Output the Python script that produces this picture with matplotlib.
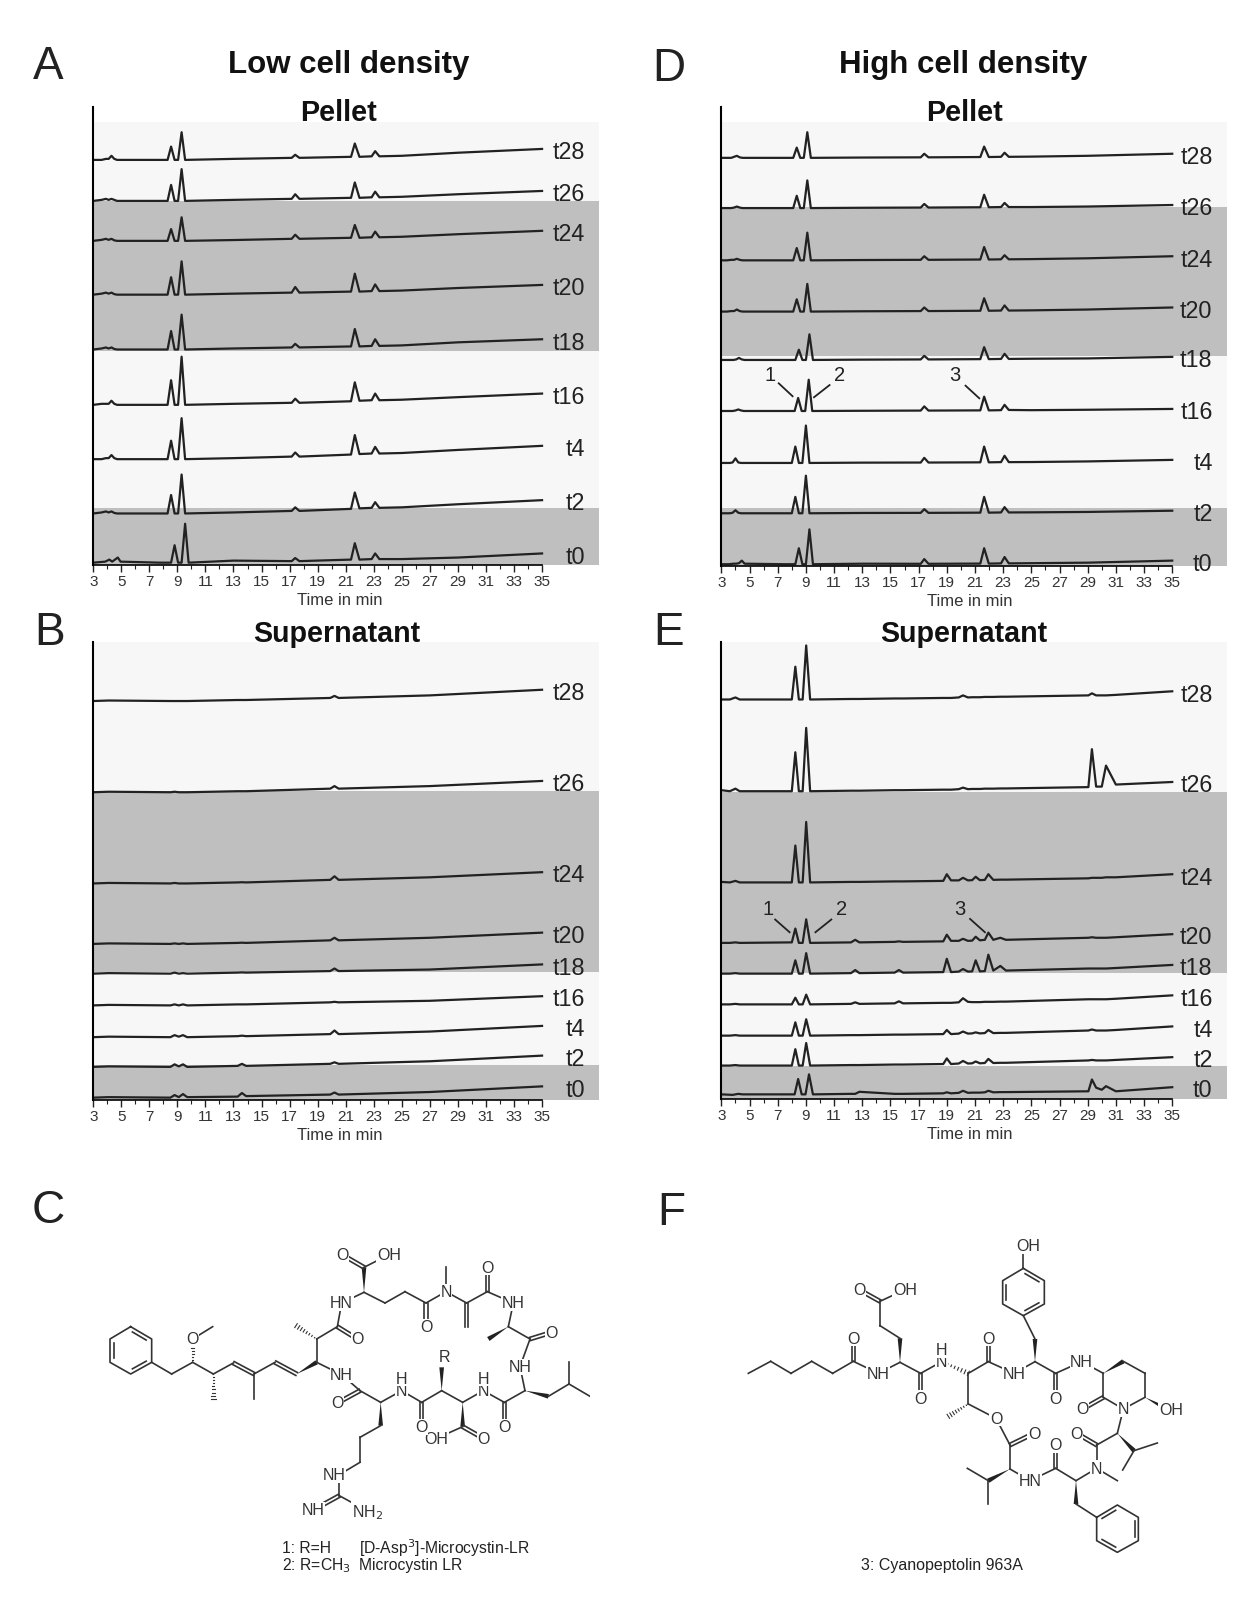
import numpy as np
import matplotlib
matplotlib.use("Agg")
import matplotlib.pyplot as plt
from matplotlib.patches import Polygon

plt.rcParams['font.family'] = ['Liberation Sans', 'DejaVu Sans']

labels = ['t28', 't26', 't24', 't20', 't18', 't16', 't4', 't2', 't0']

# retention time knots, minutes
pellet_t = [3.0, 3.6, 3.9, 4.1, 4.3, 4.5, 4.7, 7.5, 8.3, 8.55, 8.8, 9.05, 9.3, 9.55, 13, 17.15, 17.4, 17.7,
            21.38, 21.65, 21.98, 22.85, 23.1, 23.4, 25, 29, 35]
low_sup_t = [3, 4.1, 8.5, 8.8, 9.1, 9.4, 9.7, 13.3, 13.6, 13.9, 19.9, 20.2, 20.5, 27, 35]
high_sup_t = [3.0, 3.6, 4.0, 4.3, 8.0, 8.25, 8.5, 8.77, 9.02, 9.3, 12.2, 12.5, 12.8, 15.3, 15.6, 15.9,
              18.75, 19.0, 19.3, 19.85, 20.15, 20.5, 20.8, 21.05, 21.35, 21.7, 21.95, 22.3, 22.8, 23.2,
              29.05, 29.3, 29.6, 30.0, 30.3, 31.0, 35.0]

# stacking offset of each trace and early peak shift of each run
low_pellet_offset = [395, 355, 316, 263.5, 210, 156, 103, 50, 2]
low_pellet_shift = [0, 0, 0, 0, 0, 0, 0, 0, 0.25]
high_pellet_offset = [398, 349, 298, 248, 200.8, 151, 100.3, 51.2, 1.5]
high_pellet_shift = [-0.2, -0.2, -0.2, -0.2, -0.05, -0.1, -0.3, -0.3, -0.05]
low_sup_offset = [389, 300, 211, 152, 123, 92, 61, 32, 2]
low_sup_shift = [0, 0, 0, 0, 0, 0, 0, 0, 0]
high_sup_offset = [389.5, 300, 211, 152, 122, 92, 61.5, 32.3, 3.7]
high_sup_shift = [0, 0, 0, 0, 0, 0, 0, 0, 0.2]

lp_t28 = [0, 0, 1, 1, 4, 1, 0, 0, 0, 13, 0, 0, 27, 0, 1, 2, 5, 2, 3, 16, 3, 3.5, 8.5, 3.5, 4, 7, 10.7]
lp_t26 = [0, 1, 2, 1, 2, 1, 0, 0, 0, 15.6, 0, 0, 31, 0, 1, 2, 6.5, 2, 3, 18, 3, 3.5, 9, 3.5, 4, 6.5, 9.7]
lp_t24 = [0, 1, 2, 1, 2, .5, 0, 0, 0, 11.5, 0, 0, 23, 0, .8, 2, 6, 2, 3, 15.5, 3, 3.5, 9, 3.5, 4, 6.5, 9.8]
lp_t20 = [0, 1, 2, 1, 2, .5, 0, 0, 0, 17, 0, 0, 32.5, 0, 1, 2, 7.5, 2, 3, 20.5, 3, 3.5, 10, 3.5, 4, 6.5, 9.5]
lp_t18 = [0, 1, 2, 1, 2, .5, 0, 0, 0, 18, 0, 0, 34, 0, 1, 2, 5.5, 2, 3, 20, 3, 3.5, 10, 3.5, 4, 7, 10]
lp_t16 = [0, 1, 1, 1, 4, 1, 0, 0, 0, 24, 0, 0, 47, 0, 1, 2, 6, 2, 3.5, 22, 4, 4.5, 11, 4.5, 5, 7.5, 11]
lp_t4 = [0, 0, 1, 1, 4, 1, 0, 0, 0, 18, 0, 0, 40, 0, 1, 2.5, 6.5, 2.5, 4.5, 23.5, 5, 5.5, 12, 5.5, 6, 9, 13]
lp_t2 = [0, 1, 2, 1, 2, .5, 0, 0, 0, 18, 0, 0, 38, 0, 1, 2.5, 6, 2.5, 4.5, 20.5, 5, 5.5, 11, 5.5, 6, 9, 13]
lp_t0 = [0, 1, 3, 1, 3, 5, 1, 0, 0, 17, 0, 0, 38, 0, 2, 1.5, 4.5, 1.5, 3, 19, 3, 3.5, 9, 3.5, 3.5, 5, 9]

hp_t28 = [0, 0, 0, 1, 2, .5, 0, 0, 0, 10, 0, 0, 25, 0, .3, .5, 4, .5, .8, 11, .8, 1, 5, 1, 1.2, 2, 4]
hp_t26 = [0, 0, 0, .5, 1.5, .5, 0, 0, 0, 12, 0, 0, 27, 0, .3, .5, 4, .5, .8, 13, .8, 1, 5, 1, 1, 1.5, 3]
hp_t24 = [0, 0, .5, .5, 1.5, .5, 0, 0, 0, 12, 0, 0, 27, 0, .3, .5, 4, .5, .8, 13, .8, 1, 5, 1, 1.2, 2, 4]
hp_t20 = [0, 0, .5, .5, 2, .5, 0, 0, 0, 12, 0, 0, 27, 0, .3, .5, 4, .5, .8, 13, .8, 1, 6, 1, 1.2, 2, 4]
hp_t18 = [0, 0, 0, .5, 2, .5, 0, 0, 0, 10, 0, 0, 25, 0, .3, .5, 4, .5, .8, 12.5, .8, 1, 6, 1, 1.2, 1.5, 3]
hp_t16 = [0, 0, 0, .5, 1.5, .5, 0, 0, 0, 12.7, 0, 0, 30.5, 0, .2, .4, 4.5, .4, .6, 14, .6, .8, 6, 1, .8, 1.2, 2]
hp_t4 = [0, 0, 0, .5, 4.5, .5, 0, 0, 0, 16, 0, 0, 36.5, 0, .3, .4, 5, .4, .6, 16, .6, .8, 7, .8, .9, 1.5, 3]
hp_t2 = [0, 0, 0, .5, 3, .5, 0, 0, 0, 16, 0, 0, 36.7, 0, .3, .4, 4, .4, .6, 16, .6, .8, 6, .8, .9, 1.3, 2.5]
hp_t0 = [0, 0, .5, .5, 1, 3.5, .5, 0, 0, 15.6, 0, 0, 34, 0, .5, .4, 5, .4, .6, 15.6, .6, .8, 7, .8, 1, 1.5, 3.5]

ls_t28 = [0, .5, 0, 0, 0, 0, 0, 1, 1, 1, 3, 5, 3, 5.5, 11]
ls_t26 = [0, .5, 0, .5, 0, 0, 0, 1, 1, 1, 3.5, 6, 3.5, 6, 11]
ls_t24 = [0, .5, 0, .5, 0, 0, 0, 1, 1.2, 1, 3.5, 7, 3.5, 6, 11]
ls_t20 = [0, .5, 0, .5, 0, .5, 0, 1, 1.2, 1, 3.5, 6, 3.5, 6, 11]
ls_t18 = [0, .5, 0, 1, 0, .5, 0, 1, 1.2, 1, 2.5, 5, 2.5, 4, 9]
ls_t16 = [0, .5, 0, 1, 0, 1, 0, 1, 1, 1, 3, 3.5, 3, 4.5, 9]
ls_t4 = [0, .5, 0, 2, .5, 2, 0, 1, 1.5, 1, 3, 6.5, 3, 5.5, 11]
ls_t2 = [0, .5, 0, 2.5, .5, 2.5, 0, 1, 3, 1, 3, 4.5, 3, 5.5, 11]
ls_t0 = [0, .5, 0, 2.5, .5, 3.5, .5, 1, 4.5, 1.5, 3, 5, 3, 5.5, 11]

hs_t28 = [0, 0, 2, 0, 0, 32, 0, 0, 52.7, 0, .5, .5, .5, 1, 1, 1, 1.5, 1.5, 1.5, 2, 4, 2, 2.2, 2.2, 2.2, 2.5, 2.5, 2.5,
          2.7, 2.7, 4, 6, 4, 4, 4, 4.5, 8]
hs_t26 = [1, 0, 2.5, 0, 0, 38, 0, 0, 61.8, 0, .5, .5, .5, 1, 1, 1, 1.5, 1.5, 1.5, 2, 3.5, 2, 2.2, 2.2, 2.2, 2.5, 2.5, 2.5,
          2.7, 2.7, 4, 41, 4.5, 4.5, 25, 6.5, 9]
hs_t24 = [.5, 0, 1.5, 0, 0, 36, 0, 0, 59, 0, .5, .5, .5, 1, 1, 1, 1.5, 8, 2, 2, 4.5, 2, 2.2, 5.5, 2.2, 2.5, 8, 2.5,
          2.7, 2.7, 4, 4.5, 4.5, 4.5, 5, 5, 8]
hs_t20 = [0, 0, .5, 0, .5, 14, 0, 0, 23, 0, .5, 3, .5, 1, 1.5, 1, 1.5, 8, 2, 2, 4, 2, 2.2, 6, 2.5, 3, 10, 3,
          5, 3, 5, 5.5, 5, 5, 5, 5.5, 8.5]
hs_t18 = [0, 0, .5, 0, 0, 13, 0, 0, 20, 0, .5, 3.5, .5, 1, 3.5, 1, 1.5, 14.5, 1.5, 2, 4.5, 2, 2.2, 13, 2.2, 2.5, 18.5, 3,
          7.5, 3, 5, 5, 5, 5, 5, 5.5, 8.5]
hs_t16 = [0, 0, .5, 0, 0, 6.5, 0, 0, 9.5, 0, .5, 2, .5, 1, 3, 1, 1.5, 1.5, 1.5, 2, 6, 2.5, 2.2, 2.2, 2.2, 2.5, 2.5, 2.5,
          2.7, 2.7, 5, 5, 5, 5, 5, 5.5, 8.8]
hs_t4 = [0, 0, .5, 0, 0, 13, 0, 0, 16, 0, .5, .5, .5, 1, 1, 1, 1.5, 5.5, 1.5, 2, 4, 2, 2.2, 3.2, 2.2, 2.5, 5.5, 2.5,
         2.7, 2.7, 5, 6, 5, 5, 5, 5.5, 9]
hs_t2 = [0, 0, .5, 0, 0, 16, 0, 0, 22, 0, .5, .5, .5, 1, 1, 1, 1.5, 7, 1.5, 2, 4.5, 2, 2.2, 4, 2.2, 2.5, 6.5, 2.5,
         2.7, 2.7, 5, 5.5, 5, 5, 5, 5.5, 8.2]
hs_t0 = [.5, 0, 1, .5, .5, 15.5, .5, .5, 20, .5, 1, 1, 3, 1, 1, 1, 1.5, 2.5, 1.5, 2, 4, 2, 2.2, 2.2, 2.2, 2.5, 4, 2.5,
         2.7, 2.7, 3.5, 15, 7, 5, 8.5, 3.5, 7.5]

# structures: (x1, y1, x2, y2, kind) with s single, d double, w wedge, h hashed
benzene_c = [(122, 383), (185, 420), (185, 490), (122, 525), (60, 490), (60, 420)]
bonds_c = [
    (185, 490, 245, 525, 's'), (245, 525, 308, 490, 's'), (308, 490, 308, 420, 'h'), (308, 420, 368, 383, 's'),
    (308, 490, 370, 525, 's'), (370, 525, 370, 600, 'h'), (370, 525, 430, 492, 's'), (430, 492, 492, 525, 'd'),
    (492, 525, 492, 600, 's'), (492, 525, 555, 490, 's'), (555, 490, 620, 525, 'd'), (620, 525, 680, 490, 'w'),
    (680, 490, 680, 420, 's'), (680, 420, 618, 380, 'h'), (680, 420, 742, 383, 's'), (742, 383, 802, 420, 'd'),
    (742, 383, 755, 312, 's'), (755, 312, 822, 280, 's'), (822, 280, 822, 205, 'w'), (822, 205, 758, 168, 'd'),
    (822, 205, 895, 168, 's'), (822, 280, 885, 312, 's'), (885, 312, 945, 278, 's'), (945, 278, 1008, 312, 's'),
    (1008, 312, 1008, 383, 'd'), (1008, 312, 1068, 278, 's'), (1068, 278, 1068, 205, 's'), (1068, 278, 1130, 312, 's'),
    (1130, 312, 1130, 383, 'd'), (1130, 312, 1192, 278, 's'), (1192, 278, 1192, 205, 'd'), (1192, 278, 1270, 312, 's'),
    (1270, 312, 1255, 383, 's'), (1255, 383, 1195, 420, 'w'), (1255, 383, 1320, 420, 's'), (1320, 420, 1385, 400, 'd'),
    (1320, 420, 1290, 503, 's'), (1290, 503, 1305, 575, 's'), (1305, 575, 1375, 592, 'w'), (1375, 592, 1437, 555, 's'),
    (1437, 555, 1437, 488, 's'), (1437, 555, 1500, 592, 's'), (1305, 575, 1243, 610, 's'), (1243, 610, 1243, 683, 'd'),
    (1243, 610, 1180, 575, 's'), (1180, 575, 1118, 610, 's'), (1118, 610, 1118, 683, 'w'), (1118, 683, 1180, 718, 'd'),
    (1118, 683, 1040, 718, 's'), (1118, 610, 1055, 575, 's'), (1055, 575, 1055, 505, 'w'), (1055, 575, 995, 610, 's'),
    (995, 610, 995, 683, 'd'), (995, 610, 935, 575, 's'), (935, 575, 872, 610, 's'), (872, 610, 810, 575, 's'),
    (810, 575, 742, 612, 'd'), (810, 575, 755, 527, 's'), (755, 527, 680, 490, 's'), (872, 610, 872, 680, 'w'),
    (872, 680, 810, 715, 's'), (810, 715, 810, 790, 's'), (810, 790, 748, 827, 's'), (748, 827, 748, 890, 's'),
    (748, 890, 670, 933, 'd'), (748, 890, 830, 935, 's'),
]
atoms_c = [('O', 308, 420), ('HN', 755, 312), ('O', 802, 420), ('O', 758, 168), ('OH', 897, 168), ('O', 1008, 383),
           ('N', 1068, 278), ('O', 1192, 205), ('NH', 1270, 312), ('O', 1385, 400), ('NH', 1290, 503), ('O', 1243, 683),
           ('N', 1180, 575), ('H', 1180, 538), ('O', 1180, 718), ('OH', 1040, 718), ('R', 1063, 472), ('O', 995, 683),
           ('N', 935, 575), ('H', 935, 538), ('O', 742, 612), ('NH', 755, 527), ('NH', 732, 827), ('NH', 670, 933),
           ('NH$_2$', 832, 937)]

chain_f_ring1 = [(940, 238), (1003, 275), (1003, 345), (940, 380), (878, 345), (878, 275)]
chain_f_ring2 = [(1160, 985), (1222, 948), (1285, 985), (1285, 1055), (1222, 1090), (1160, 1055)]
bonds_f = [
    (115, 553, 182, 517, 's'), (182, 517, 243, 553, 's'), (243, 553, 305, 517, 's'), (305, 517, 368, 553, 's'),
    (368, 553, 430, 517, 's'), (430, 517, 430, 448, 'd'), (430, 517, 505, 553, 's'), (505, 553, 570, 520, 's'),
    (570, 520, 570, 448, 'w'), (570, 448, 510, 410, 's'), (510, 410, 510, 337, 's'), (510, 337, 447, 302, 'd'),
    (510, 337, 585, 302, 's'), (570, 520, 632, 553, 's'), (632, 553, 632, 627, 'd'), (632, 553, 695, 518, 's'),
    (695, 518, 775, 553, 'h'), (775, 553, 835, 518, 's'), (835, 518, 835, 447, 'd'), (835, 518, 912, 553, 's'),
    (912, 553, 975, 518, 's'), (975, 518, 975, 450, 'w'), (975, 450, 940, 380, 's'), (940, 238, 940, 170, 's'),
    (975, 518, 1037, 553, 's'), (1037, 553, 1037, 627, 'd'), (1037, 553, 1115, 518, 's'), (1115, 518, 1180, 553, 's'),
    (1180, 553, 1240, 517, 'w'), (1240, 517, 1305, 553, 's'), (1305, 553, 1305, 625, 's'), (1305, 625, 1370, 660, 'w'),
    (1305, 625, 1240, 660, 's'), (1240, 660, 1180, 625, 's'), (1180, 625, 1180, 553, 's'), (1180, 625, 1118, 660, 'd'),
    (1240, 660, 1222, 733, 's'), (1222, 733, 1272, 785, 'w'), (1272, 785, 1342, 762, 's'), (1272, 785, 1238, 843, 's'),
    (1222, 733, 1160, 768, 's'), (1160, 768, 1100, 733, 'd'), (1160, 768, 1160, 838, 's'), (1160, 838, 1222, 875, 's'),
    (1160, 838, 1098, 875, 's'), (1098, 875, 1037, 838, 's'), (1037, 838, 1037, 768, 'd'), (1037, 838, 960, 875, 's'),
    (960, 875, 900, 840, 's'), (900, 840, 835, 875, 'w'), (835, 875, 772, 838, 's'), (835, 875, 835, 945, 's'),
    (900, 840, 900, 768, 's'), (900, 768, 972, 733, 'd'), (900, 768, 858, 688, 's'), (858, 688, 775, 645, 's'),
    (775, 645, 775, 553, 's'), (775, 645, 715, 682, 'h'), (1098, 875, 1098, 945, 'w'), (1098, 945, 1160, 985, 's'),
]
atoms_f = [('O', 430, 448), ('NH', 505, 553), ('O', 447, 302), ('OH', 585, 302), ('O', 632, 627), ('N', 695, 518),
           ('H', 695, 482), ('O', 835, 447), ('NH', 912, 553), ('OH', 955, 170), ('O', 1037, 627), ('NH', 1115, 518),
           ('OH', 1383, 662), ('N', 1240, 660), ('O', 1118, 660), ('O', 1100, 733), ('N', 1160, 838), ('O', 1037, 768),
           ('HN', 960, 875), ('O', 972, 733), ('O', 858, 688)]

W, H = 1246, 1608
SEEN_W, SEEN_H = 1216, 1569


def panel_axes(x0, x1, top, bottom):
    sx, sy = W / SEEN_W, H / SEEN_H
    ax = fig.add_axes([x0 * sx / W, 1 - bottom * sy / H, (x1 - x0) * sx / W, (bottom - top) * sy / H])
    ax.set_facecolor('none')
    ax.set_xlim(3, 35)
    ax.set_ylim(0, bottom - top)
    ax.set_yticks([])
    ax.set_xticks(range(3, 36, 2))
    ax.set_xticks(range(3, 36), minor=True)
    ax.tick_params(axis='x', which='major', length=5, width=1, labelsize=11, pad=2, labelcolor='#333333', color='#222222')
    ax.tick_params(axis='x', which='minor', length=3, width=0.8, color='#222222')
    ax.spines['top'].set_visible(False)
    ax.spines['right'].set_visible(False)
    ax.spines['left'].set_linewidth(1.5)
    ax.spines['bottom'].set_linewidth(1.2)
    ax.set_xlabel('Time in min', fontsize=12, color='#333333')
    ax.xaxis.set_label_coords(0.55, -27 / (bottom - top))
    return ax


def draw_traces(ax, grid, rows, offsets, shifts, label_gap):
    grid = np.array(grid, dtype=float)
    for name, row, off, shift in zip(labels, rows, offsets, shifts):
        t = grid + np.where(grid < 10, shift, 0)
        t[0] = 3
        y = np.array(row) + off
        ax.plot(t, y, color='#222222', lw=1.6, solid_joinstyle='round', clip_on=False)
        ax.annotate(name, (35, y[-1]), xytext=(label_gap, -2), textcoords='offset points', ha='right', va='center',
                    fontsize=16.8, color='#222222', annotation_clip=False)


def draw_structure(rect, xmax, ymax, bonds, atoms, rings):
    ax = fig.add_axes([rect[0] / W, 1 - (rect[1] + rect[3]) / H, rect[2] / W, rect[3] / H])
    ax.set_xlim(0, xmax)
    ax.set_ylim(ymax, 0)
    ax.axis('off')
    col = '#333333'
    for x1, y1, x2, y2, kind in bonds:
        dx, dy = x2 - x1, y2 - y1
        nx, ny = -dy / np.hypot(dx, dy), dx / np.hypot(dx, dy)
        if kind == 's':
            ax.plot([x1, x2], [y1, y2], color=col, lw=1.2)
        elif kind == 'd':
            for s in (-5, 5):
                ax.plot([x1 + s * nx, x2 + s * nx], [y1 + s * ny, y2 + s * ny], color=col, lw=1.2)
        elif kind == 'w':
            ax.add_patch(Polygon([(x1, y1), (x2 + 7 * nx, y2 + 7 * ny), (x2 - 7 * nx, y2 - 7 * ny)], color='#222222', lw=0))
        else:
            for f in np.linspace(0.1, 1, 8):
                ax.plot([x1 + dx * f - 7 * f * nx, x1 + dx * f + 7 * f * nx],
                        [y1 + dy * f - 7 * f * ny, y1 + dy * f + 7 * f * ny], color=col, lw=0.8)
    for ring in rings:
        pts = np.array(ring, dtype=float)
        c = pts.mean(axis=0)
        closed = np.vstack([pts, pts[0]])
        ax.plot(closed[:, 0], closed[:, 1], color=col, lw=1.2)
        for i in (0, 2, 4):
            a, b = pts[i], pts[(i + 1) % 6]
            a2, b2 = c + (a - c) * 0.82, c + (b - c) * 0.82
            a3, b3 = a2 + (b2 - a2) * 0.1, b2 - (b2 - a2) * 0.1
            ax.plot([a3[0], b3[0]], [a3[1], b3[1]], color=col, lw=1.2)
    for txt, x, y in atoms:
        ax.text(x, y, txt, ha='center', va='center', fontsize=11.5, color='#333333',
                bbox=dict(facecolor='white', edgecolor='none', pad=0.5), zorder=5)


fig = plt.figure(figsize=(W / 100, H / 100), dpi=100)
bg = fig.add_axes([0, 0, 1, 1])
bg.set_xlim(0, SEEN_W)
bg.set_ylim(SEEN_H, 0)
bg.axis('off')

light, grey = '#f7f7f7', '#bfbfbf'
for x0, x1, edges in [(91, 585, [120, 197, 343, 497, 552]), (91, 585, [627, 773, 949, 1040, 1074]),
                      (704, 1197, [120, 203, 348, 497, 553]), (704, 1197, [627, 774, 950, 1041, 1073])]:
    for k in range(4):
        bg.fill_between([x0, x1], edges[k], edges[k + 1], color=light if k % 2 == 0 else grey, lw=0)

for txt, x, y in [('A', 47, 65), ('D', 653, 67), ('B', 48, 618), ('E', 652, 618), ('C', 47, 1182), ('F', 655, 1184)]:
    bg.text(x, y, txt, fontsize=33, ha='center', va='center', color='#222222')
bg.text(340, 63, 'Low cell density', fontsize=22.5, fontweight='bold', ha='center', va='center', color='#111111')
bg.text(940, 63, 'High cell density', fontsize=22.5, fontweight='bold', ha='center', va='center', color='#111111')
bg.text(330, 110, 'Pellet', fontsize=20.8, fontweight='bold', ha='center', va='center', color='#111111')
bg.text(941, 110, 'Pellet', fontsize=20.8, fontweight='bold', ha='center', va='center', color='#111111')
bg.text(329, 619, 'Supernatant', fontsize=20.6, fontweight='bold', ha='center', va='center', color='#111111')
bg.text(941, 619, 'Supernatant', fontsize=20.6, fontweight='bold', ha='center', va='center', color='#111111')

# numbered peak callouts
for txt, x, y in [('1', 752, 366), ('2', 819, 366), ('3', 932, 366), ('1', 750, 887), ('2', 821, 887), ('3', 937, 887)]:
    bg.text(x, y, txt, fontsize=14.5, ha='center', va='center', color='#222222', zorder=6)
for x1, y1, x2, y2 in [(760, 375, 773.5, 387.6), (809.6, 376.7, 794.4, 388.6), (942.3, 377.3, 955.7, 389.6),
                       (756.5, 898.2, 770.6, 910.6), (811.3, 898.2, 795.8, 910.6), (946.7, 897.6, 961.2, 910.6)]:
    bg.plot([x1, x2], [y1, y2], color='#222222', lw=1.3, zorder=6)

bg.text(275, 1511, '1: R=H', fontsize=11.3, va='center', color='#222222')
bg.text(350, 1511, '[D-Asp$^3$]-Microcystin-LR', fontsize=11.3, va='center', color='#222222', math_fontfamily='custom')
bg.text(275, 1528, '2: R=CH$_3$', fontsize=11.3, va='center', color='#222222', math_fontfamily='custom')
bg.text(350, 1528, 'Microcystin LR', fontsize=11.3, va='center', color='#222222')
bg.text(919, 1528, '3: Cyanopeptolin 963A', fontsize=11.5, ha='center', va='center', color='#222222')

ax_a = panel_axes(91, 529, 105, 552)
draw_traces(ax_a, pellet_t, [lp_t28, lp_t26, lp_t24, lp_t20, lp_t18, lp_t16, lp_t4, lp_t2, lp_t0],
            low_pellet_offset, low_pellet_shift, 31)
ax_b = panel_axes(91, 529, 627, 1074)
draw_traces(ax_b, low_sup_t, [ls_t28, ls_t26, ls_t24, ls_t20, ls_t18, ls_t16, ls_t4, ls_t2, ls_t0],
            low_sup_offset, low_sup_shift, 31)
ax_d = panel_axes(704, 1144, 105, 553)
draw_traces(ax_d, pellet_t, [hp_t28, hp_t26, hp_t24, hp_t20, hp_t18, hp_t16, hp_t4, hp_t2, hp_t0],
            high_pellet_offset, high_pellet_shift, 29)
ax_e = panel_axes(704, 1144, 627, 1073)
draw_traces(ax_e, high_sup_t, [hs_t28, hs_t26, hs_t24, hs_t20, hs_t18, hs_t16, hs_t4, hs_t2, hs_t0],
            high_sup_offset, high_sup_shift, 29)

draw_structure((90, 1200, 500, 350), 1500, 1050, bonds_c, atoms_c, [benzene_c])
draw_structure((710, 1190, 480, 380), 1440, 1140, bonds_f, atoms_f, [chain_f_ring1, chain_f_ring2])

fig.savefig('out.png', dpi=100)
